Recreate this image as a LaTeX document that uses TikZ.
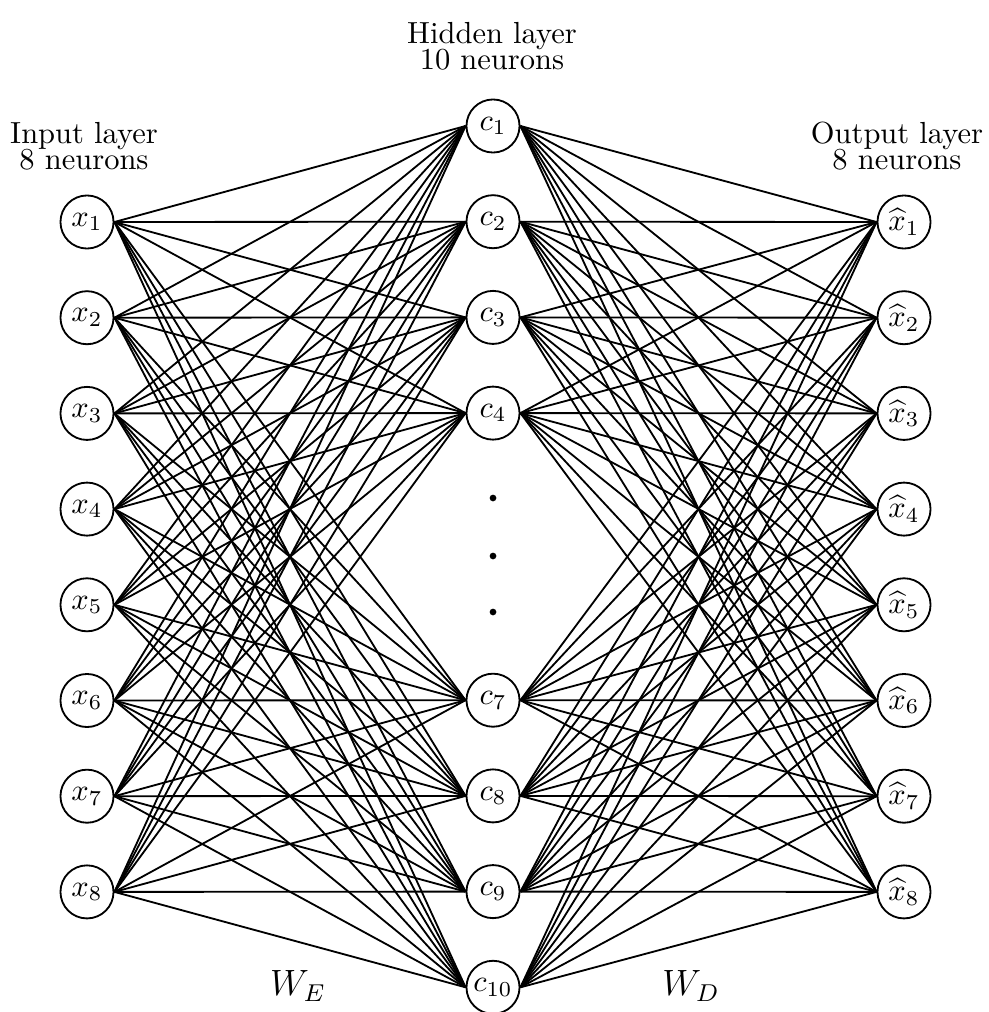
\documentclass[tikz,border=0pt]{standalone}
\begin{document}
\begin{tikzpicture}[x=0.3279pt,y=-0.3279pt,
  neuron/.style={circle,draw,line width=0.6pt,minimum size=17.4pt,inner sep=0pt},
  link/.style={line width=0.6pt},
  lbl/.style={align=center,inner sep=0pt},
  dotmark/.style={circle,fill,inner sep=0pt,minimum size=2.2pt},
  weight/.style={font=\large}]
\useasboundingbox (0,0) rectangle (988,1012);
% input and output layers
\foreach \i in {1,...,8} {
  \node[neuron] (x\i) at (87,{222+(\i-1)*95.7}) {$x_{\i}$};
  \node[neuron] (y\i) at (904,{222+(\i-1)*95.7}) {$\widehat{x}_{\i}$};
}
% hidden layer (c5, c6 elided)
\foreach \j in {1,2,3,4,7,8,9,10} {
  \node[neuron] (c\j) at (493,{126+(\j-1)*95.7}) {$c_{\j}$};
}
\node[dotmark] (d1) at (493,498) {};
\node[dotmark] (d2) at (493,556) {};
\node[dotmark] (d3) at (493,612) {};
% fully connected links
\foreach \i in {1,...,8} {
  \foreach \j in {1,2,3,4,7,8,9,10} {
    \draw[link] (x\i.east) -- (c\j.west);
    \draw[link] (c\j.east) -- (y\i.west);
  }
}
% layer captions
\node[lbl] (inlbl) at (84,146) {Input layer\\[-3.5pt]8 neurons};
\node[lbl] (hidlbl) at (492,46) {Hidden layer\\[-3.5pt]10 neurons};
\node[lbl] (outlbl) at (897,146) {Output layer\\[-3.5pt]8 neurons};
\node[weight] (we) at (298,986) {$W_E$};
\node[weight] (wd) at (691,986) {$W_D$};
\end{tikzpicture}
\end{document}
